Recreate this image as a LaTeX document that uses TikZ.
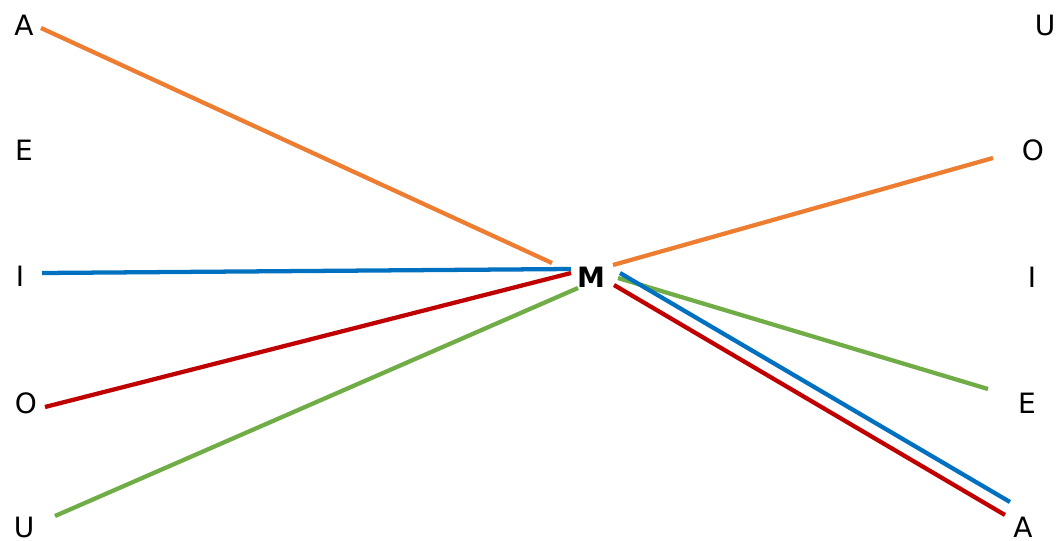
\documentclass[tikz,border=0pt]{standalone}
\usepackage{fontspec}
\setmainfont{DejaVu Sans}
\definecolor{corange}{HTML}{ED7D31}
\definecolor{cblue}{HTML}{0070C0}
\definecolor{cred}{HTML}{C00000}
\definecolor{cgreen}{HTML}{70AD47}
\tikzset{
  lbl/.style={inner sep=0pt, font=\fontsize{21}{25}\selectfont},
  link/.style={line width=3.2pt},
}
\begin{document}
\begin{tikzpicture}[x=0.75pt,y=-0.75pt]
\useasboundingbox (0,0) rectangle (1058,540);
% labels
\node[lbl] (lA) at (24,25) {A};
\node[lbl] (lE) at (24,150) {E};
\node[lbl] (lI) at (20,276) {I};
\node[lbl] (lO) at (26,403) {O};
\node[lbl] (lU) at (24,527) {U};
\node[lbl] (rU) at (1045,25) {U};
\node[lbl] (rO) at (1033,150) {O};
\node[lbl] (rI) at (1032,277) {I};
\node[lbl] (rE) at (1027,403) {E};
\node[lbl] (rA) at (1023,527) {A};
\node[lbl, font=\fontsize{21}{25}\selectfont\bfseries] (M) at (591,277) {M};
% line ends
\coordinate (aA) at (41,28);
\coordinate (aI) at (42,273);
\coordinate (aO) at (45,407);
\coordinate (aU) at (55,516);
\coordinate (mA) at (552,263);
\coordinate (mI) at (571,269);
\coordinate (mO) at (571,273);
\coordinate (mU) at (578,288);
\coordinate (nO) at (613,265);
\coordinate (nA1) at (620,273);
\coordinate (nA2) at (614,285);
\coordinate (nE) at (618,278);
\coordinate (bO) at (993,158);
\coordinate (bA1) at (1010,502);
\coordinate (bA2) at (1005,515);
\coordinate (bE) at (988,389);
% connectors
\draw[link, corange] (aA) -- (mA);
\draw[link, cblue] (aI) -- (mI);
\draw[link, cred] (aO) -- (mO);
\draw[link, cgreen] (aU) -- (mU);
\draw[link, corange] (nO) -- (bO);
\draw[link, cgreen] (nE) -- (bE);
\draw[link, cred] (nA2) -- (bA2);
\draw[link, cblue] (nA1) -- (bA1);
\end{tikzpicture}
\end{document}
